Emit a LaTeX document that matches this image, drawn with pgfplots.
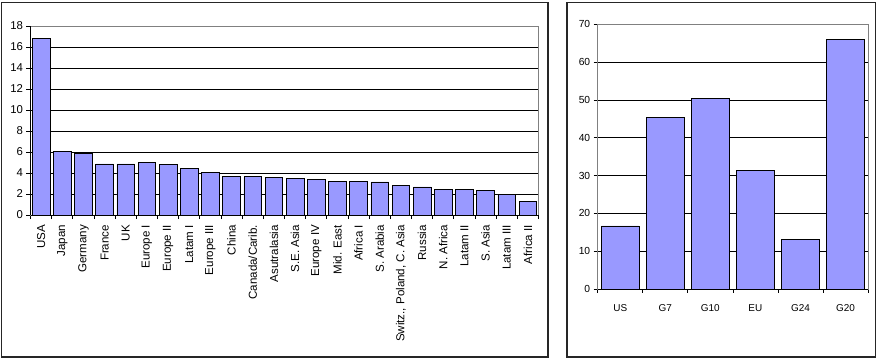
\documentclass[border=0pt]{standalone}
\usepackage{pgfplots}
\pgfplotsset{compat=1.18}
\usepackage{fontspec}
\setmainfont{Liberation Sans}
\definecolor{barblue}{RGB}{153,153,255}
\definecolor{frameline}{RGB}{128,128,128}

\pgfplotstableread{
idx value
0  16.8
1  6.03
2  5.85
3  4.86
4  4.86
5  4.98
6  4.80
7  4.41
8  4.06
9  3.66
10 3.65
11 3.57
12 3.49
13 3.40
14 3.18
15 3.17
16 3.15
17 2.83
18 2.67
19 2.41
20 2.41
21 2.32
22 1.97
23 1.27
}\regiondata

\pgfplotstableread{
idx value
0 16.7
1 45.3
2 50.3
3 31.4
4 13.2
5 65.9
}\groupdata

\pgfplotsset{
  excelbars/.style={
    scale only axis,
    axis line style={frameline, line width=0.9bp},
    tick pos=left,
    tick align=outside,
    major tick length=4bp,
    minor tick length=4bp,
    every tick/.style={black, line width=0.7bp},
    major x tick style={draw=none},
    ymajorgrids,
    grid style={black, line width=0.6bp},
    /pgf/number format/assume math mode=true,
    ybar, ymin=0,
    clip=false,
  },
  excelfill/.style={fill=barblue, draw=black, line width=0.7bp},
}

\begin{document}
\begin{tikzpicture}
\useasboundingbox (0bp,0bp) rectangle (877bp,360bp);
\draw[line width=1.3bp, black!85] (1.5bp,3bp) rectangle (548bp,357.5bp);
\draw[line width=1.3bp, black!85] (567bp,3bp) rectangle (875.5bp,357.5bp);

% Share by region
\begin{axis}[excelbars,
  at={(30.5bp,145bp)}, anchor=south west,
  width=508bp, height=189bp,
  xmin=-0.5, xmax=23.5, ymax=18,
  ytick={0,2,...,18},
  xtick={0,...,23},
  minor xtick={-0.5,0.5,...,23.5},
  xticklabels={USA, Japan, Germany, France, UK, Europe I, Europe II, Latam I, Europe III, China, Canada/Carib., Asutralasia, S.E. Asia, Europe IV, Mid. East, Africa I, S. Arabia, {Switz., Poland, C. Asia}, Russia, N. Africa, Latam II, S. Asia, Latam III, Africa II},
  xticklabel style={rotate=90, anchor=east, font=\fontsize{11.6}{13}\selectfont},
  xticklabel shift=2.5bp,
  yticklabel style={font=\fontsize{11.4}{13}\selectfont},
  bar width=0.83,
]
\addplot[excelfill] table[x=idx, y=value] {\regiondata};
\draw[black, line width=0.9bp] (rel axis cs:0,0) -- (rel axis cs:0,1);
\draw[black, line width=0.9bp] (rel axis cs:0,0) -- (rel axis cs:1,0);
\end{axis}

% Share by country group
\begin{axis}[excelbars,
  at={(597.7bp,71bp)}, anchor=south west,
  width=270.3bp, height=264.7bp,
  xmin=-0.5, xmax=5.5, ymax=70,
  ytick={0,10,...,70},
  xtick={0,...,5},
  minor xtick={-0.5,0.5,...,5.5},
  xticklabels={US, G7, G10, EU, G24, G20},
  xticklabel style={font=\fontsize{10}{12}\selectfont},
  xticklabel shift=8bp,
  yticklabel style={font=\fontsize{10.3}{12}\selectfont},
  bar width=0.84,
]
\addplot[excelfill] table[x=idx, y=value] {\groupdata};
\draw[black, line width=0.9bp] (rel axis cs:0,0) -- (rel axis cs:1,0);
\end{axis}
\end{tikzpicture}
\end{document}
